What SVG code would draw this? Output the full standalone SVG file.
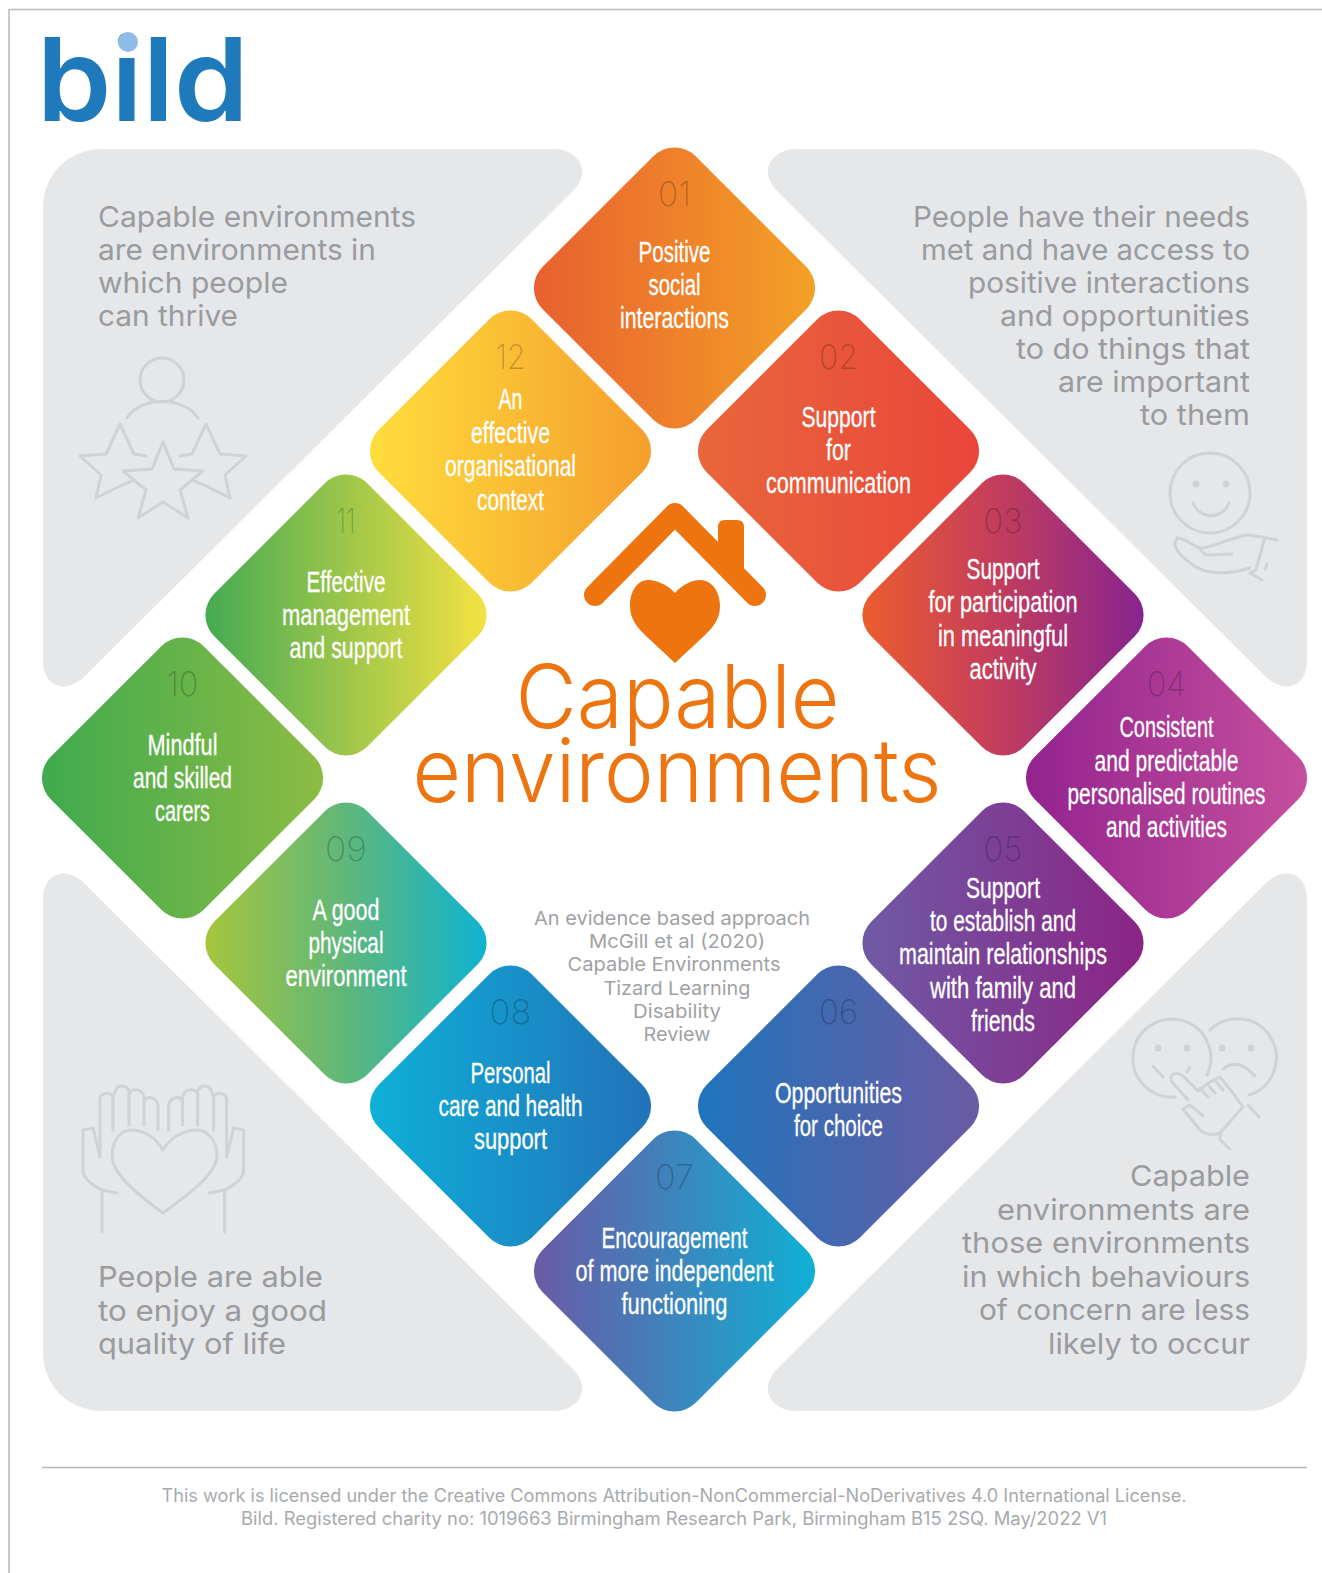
<svg xmlns="http://www.w3.org/2000/svg" width="1322" height="1573" viewBox="0 0 1322 1573">
<style>
.l{font:30px "Liberation Sans",Arial,sans-serif;fill:#fff;stroke:#fff;stroke-width:.3;text-anchor:middle}
.n{font:200 34px Inter,"Liberation Sans",sans-serif;fill:#000;fill-opacity:.24;text-anchor:middle}
.p{font:400 29px Inter,"Liberation Sans",sans-serif;fill:#999b9e}
.r{text-anchor:end}
.s{font:400 19px Inter,"Liberation Sans",sans-serif;fill:#a0a2a5;text-anchor:middle}
.f{font:400 18px Inter,"Liberation Sans",sans-serif;fill:#a8aaad;text-anchor:middle}
.t{font:300 88px Inter,"Liberation Sans",sans-serif;fill:#ee7410;text-anchor:middle}
.panel{fill:#e6e7e9}
.ic{fill:none;stroke:#d0d2d4;stroke-width:3;stroke-linecap:round;stroke-linejoin:round}
.dot{fill:#d0d2d4;stroke:none}
</style>
<defs>
<path id="d" d="M-21.2-131.8A30 30 0 0 1 21.2-131.8L131.8-21.2A30 30 0 0 1 131.8 21.2L21.2 131.8A30 30 0 0 1-21.2 131.8L-131.8 21.2A30 30 0 0 1-131.8-21.2Z"/>
<path id="pan" d="M103 149L553 149C578 149 592 170 574 190L84 677C66 694 43 688 43 660L43 209C43 172 70 149 103 149Z"/>
<linearGradient id="g1"><stop offset="0" stop-color="#e8602f"/><stop offset="1" stop-color="#f4a126"/></linearGradient>
<linearGradient id="g2"><stop offset="0" stop-color="#e9663a"/><stop offset="1" stop-color="#e9463b"/></linearGradient>
<linearGradient id="g3"><stop offset="0" stop-color="#ec5c2e"/><stop offset=".45" stop-color="#c63f5a"/><stop offset="1" stop-color="#87248f"/></linearGradient>
<linearGradient id="g4"><stop offset="0" stop-color="#93248f"/><stop offset="1" stop-color="#c54f9d"/></linearGradient>
<linearGradient id="g5"><stop offset="0" stop-color="#6f5aa5"/><stop offset="1" stop-color="#8b2485"/></linearGradient>
<linearGradient id="g6"><stop offset="0" stop-color="#1f75bc"/><stop offset="1" stop-color="#6a5ba4"/></linearGradient>
<linearGradient id="g7"><stop offset="0" stop-color="#6a5aa5"/><stop offset="1" stop-color="#0fb0d5"/></linearGradient>
<linearGradient id="g8"><stop offset="0" stop-color="#0eb0d8"/><stop offset="1" stop-color="#2272b8"/></linearGradient>
<linearGradient id="g9"><stop offset="0" stop-color="#a5c63c"/><stop offset=".5" stop-color="#5fb77a"/><stop offset="1" stop-color="#0fb3d1"/></linearGradient>
<linearGradient id="g10"><stop offset="0" stop-color="#3faa4e"/><stop offset="1" stop-color="#8cbc44"/></linearGradient>
<linearGradient id="g11"><stop offset="0" stop-color="#45aa52"/><stop offset="1" stop-color="#f4e242"/></linearGradient>
<linearGradient id="g12"><stop offset="0" stop-color="#ffdd3c"/><stop offset="1" stop-color="#f59e2d"/></linearGradient>
</defs>
<rect width="1322" height="1573" fill="#fff"/>
<g id="page-frame"><path d="M9 1573V9.5H1322" fill="none" stroke="#b9b9b9" stroke-width="1.5"/></g>
<g id="logo">
<text x="36.7" y="120.500" font-family="Inter,'Liberation Sans',sans-serif" font-weight="600" font-size="116" fill="#1f7abc" textLength="212" lengthAdjust="spacingAndGlyphs">bild</text>
<circle cx="128" cy="42" r="10" fill="#8dbde6"/>
</g>
<g id="panel-top-left">
<use href="#pan" class="panel"/>
<text class="p" x="98" y="227" textLength="318" lengthAdjust="spacingAndGlyphs">Capable environments</text>
<text class="p" x="98" y="260" textLength="278" lengthAdjust="spacingAndGlyphs">are environments in</text>
<text class="p" x="98" y="293" textLength="190" lengthAdjust="spacingAndGlyphs">which people</text>
<text class="p" x="98" y="326" textLength="140" lengthAdjust="spacingAndGlyphs">can thrive</text>
<g class="ic">
<circle cx="162" cy="380" r="22"/>
<path d="M127 418C140 396 184 396 198 418"/>
<path d="M163 442L174 469L203 471L180 490L188 518L163 502L138 518L146 490L123 471L152 469Z"/>
<path d="M146 456L134 454L120 424L106 454L80 456L101 475L96 498L120 486L132 481"/>
<path d="M180 456L192 454L206 424L220 454L246 456L225 475L230 498L206 486L194 481"/>
</g>
</g>
<g id="panel-top-right">
<use href="#pan" class="panel" transform="translate(1350,0) scale(-1,1)"/>
<text class="p r" x="1250" y="227" textLength="337" lengthAdjust="spacingAndGlyphs">People have their needs</text>
<text class="p r" x="1250" y="260" textLength="329" lengthAdjust="spacingAndGlyphs">met and have access to</text>
<text class="p r" x="1250" y="293" textLength="282" lengthAdjust="spacingAndGlyphs">positive interactions</text>
<text class="p r" x="1250" y="326" textLength="250" lengthAdjust="spacingAndGlyphs">and opportunities</text>
<text class="p r" x="1250" y="359" textLength="234" lengthAdjust="spacingAndGlyphs">to do things that</text>
<text class="p r" x="1250" y="392" textLength="192" lengthAdjust="spacingAndGlyphs">are important</text>
<text class="p r" x="1250" y="425" textLength="110" lengthAdjust="spacingAndGlyphs">to them</text>
<g class="ic">
<circle cx="1210" cy="493" r="40"/>
<circle class="dot" cx="1196" cy="484" r="3.5"/><circle class="dot" cx="1226" cy="484" r="3.5"/>
<path d="M1193 503C1200 520 1222 520 1229 503"/>
<path d="M1177 538C1186 538 1192 546 1200 548C1210 549 1232 537 1247 535C1252 535 1256 537 1262 537L1277 540"/>
<path d="M1177 538C1172 545 1176 553 1193 565C1203 573 1225 576 1250 568"/>
<path d="M1200 548C1202 552 1204 555 1208 555L1232 554"/>
<path d="M1265 537L1256 570L1250 573L1262 580"/>
<path d="M1267 564L1265 569"/>
</g>
</g>
<g id="panel-bottom-left">
<use href="#pan" class="panel" transform="translate(0,1560) scale(1,-1)"/>
<text class="p" x="98" y="1287" textLength="225" lengthAdjust="spacingAndGlyphs">People are able</text>
<text class="p" x="98" y="1321" textLength="229" lengthAdjust="spacingAndGlyphs">to enjoy a good</text>
<text class="p" x="98" y="1354" textLength="188" lengthAdjust="spacingAndGlyphs">quality of life</text>
<g class="ic">
<path d="M163 1150C155 1136 142 1130 131 1130C120 1130 112 1142 112 1155C112 1175 140 1196 163 1213C186 1196 217 1175 217 1155C217 1142 208 1130 197 1130C186 1130 171 1136 163 1150Z"/>
<g id="hand-l">
<path d="M102 1232L102 1191M117 1193L102 1190C92 1185 83 1178 83 1170L83 1130L93 1128L100 1157L100 1098C102 1092 111 1092 113 1097L113 1130M113 1097L115 1092C117 1084 127 1084 129 1092L129 1125M129 1094C132 1088 142 1088 144 1097L144 1125M144 1101C147 1096 156 1096 158 1105L158 1130"/>
</g>
<use href="#hand-l" transform="translate(326.6,0) scale(-1,1)"/>
</g>
</g>
<g id="panel-bottom-right">
<use href="#pan" class="panel" transform="translate(1350,1560) scale(-1,-1)"/>
<text class="p r" x="1250" y="1186" textLength="120" lengthAdjust="spacingAndGlyphs">Capable</text>
<text class="p r" x="1250" y="1220" textLength="253" lengthAdjust="spacingAndGlyphs">environments are</text>
<text class="p r" x="1250" y="1253" textLength="288" lengthAdjust="spacingAndGlyphs">those environments</text>
<text class="p r" x="1250" y="1287" textLength="288" lengthAdjust="spacingAndGlyphs">in which behaviours</text>
<text class="p r" x="1250" y="1320" textLength="271" lengthAdjust="spacingAndGlyphs">of concern are less</text>
<text class="p r" x="1250" y="1354" textLength="202" lengthAdjust="spacingAndGlyphs">likely to occur</text>
<g class="ic">
<path d="M1175 1097A39 39 0 1 1 1207 1075"/>
<path d="M1210 1030A39 39 0 1 1 1249 1095"/>
<circle class="dot" cx="1158" cy="1048" r="3.5"/><circle class="dot" cx="1187" cy="1048" r="3.5"/>
<circle class="dot" cx="1222" cy="1048" r="3.5"/><circle class="dot" cx="1251" cy="1048" r="3.5"/>
<path d="M1153 1066L1163 1077M1190 1067L1187 1072M1223 1069Q1238 1057 1255 1076"/>
<path d="M1188 1100L1172 1082C1168 1072 1178 1072 1183 1076L1198 1091L1208 1083L1220 1077L1233 1093L1243 1107L1220 1133C1212 1136 1205 1134 1200 1130L1183 1109L1190 1105L1203 1116"/>
<path d="M1248 1105L1259 1117M1220 1133L1220 1140L1230 1149"/>
<path d="M1200 1088L1208 1097M1208 1085L1215 1093M1215 1080L1223 1090"/>
</g>
</g>
<g id="centre">
<path d="M595 595L675 514L755 595" fill="none" stroke="#ee7410" stroke-width="22" stroke-linecap="round" stroke-linejoin="round"/>
<path d="M718 567V527Q718 520 725 520H737Q744 520 744 527V576L718 550Z" fill="#ee7410"/>
<path d="M675 593C667 584 656 580 648 580C637 580 630 592 630 606C630 620 638 628 646 636L675 663L704 636C712 628 720 620 720 606C720 592 712 580 700 580C692 580 683 584 675 593Z" fill="#ee7410"/>
<text class="t" x="677.500" y="728" textLength="324" lengthAdjust="spacingAndGlyphs">Capable</text>
<text class="t" x="677" y="802" textLength="529" lengthAdjust="spacingAndGlyphs">environments</text>
<text class="s" x="672" y="925" textLength="276" lengthAdjust="spacingAndGlyphs">An evidence based approach</text>
<text class="s" x="677" y="948" textLength="176" lengthAdjust="spacingAndGlyphs">McGill et al (2020)</text>
<text class="s" x="674" y="971" textLength="213" lengthAdjust="spacingAndGlyphs">Capable Environments</text>
<text class="s" x="677" y="995" textLength="147" lengthAdjust="spacingAndGlyphs">Tizard Learning</text>
<text class="s" x="677" y="1018" textLength="88" lengthAdjust="spacingAndGlyphs">Disability</text>
<text class="s" x="677" y="1041" textLength="67" lengthAdjust="spacingAndGlyphs">Review</text>
</g>
<g id="node-01" transform="translate(674.5,288)"><use href="#d" fill="url(#g1)"/><text class="n" y="-82" textLength="33" lengthAdjust="spacingAndGlyphs">01</text>
<text class="l" y="-26" textLength="72" lengthAdjust="spacingAndGlyphs">Positive</text><text class="l" y="7" textLength="52" lengthAdjust="spacingAndGlyphs">social</text><text class="l" y="40" textLength="109" lengthAdjust="spacingAndGlyphs">interactions</text></g>
<g id="node-02" transform="translate(838.5,451)"><use href="#d" fill="url(#g2)"/><text class="n" y="-82" textLength="39" lengthAdjust="spacingAndGlyphs">02</text>
<text class="l" y="-24" textLength="74" lengthAdjust="spacingAndGlyphs">Support</text><text class="l" y="9" textLength="25" lengthAdjust="spacingAndGlyphs">for</text><text class="l" y="42" textLength="145" lengthAdjust="spacingAndGlyphs">communication</text></g>
<g id="node-03" transform="translate(1003,615)"><use href="#d" fill="url(#g3)"/><text class="n" y="-82" textLength="39" lengthAdjust="spacingAndGlyphs">03</text>
<text class="l" y="-36" textLength="73" lengthAdjust="spacingAndGlyphs">Support</text><text class="l" y="-3" textLength="149" lengthAdjust="spacingAndGlyphs">for participation</text><text class="l" y="31" textLength="130" lengthAdjust="spacingAndGlyphs">in meaningful</text><text class="l" y="64" textLength="67" lengthAdjust="spacingAndGlyphs">activity</text></g>
<g id="node-04" transform="translate(1166.5,778)"><use href="#d" fill="url(#g4)"/><text class="n" y="-82" textLength="39" lengthAdjust="spacingAndGlyphs">04</text>
<text class="l" y="-41" textLength="94" lengthAdjust="spacingAndGlyphs">Consistent</text><text class="l" y="-7" textLength="144" lengthAdjust="spacingAndGlyphs">and predictable</text><text class="l" y="26" textLength="198" lengthAdjust="spacingAndGlyphs">personalised routines</text><text class="l" y="59" textLength="121" lengthAdjust="spacingAndGlyphs">and activities</text></g>
<g id="node-05" transform="translate(1003,943)"><use href="#d" fill="url(#g5)"/><text class="n" y="-82" textLength="39" lengthAdjust="spacingAndGlyphs">05</text>
<text class="l" y="-45" textLength="74" lengthAdjust="spacingAndGlyphs">Support</text><text class="l" y="-12" textLength="146" lengthAdjust="spacingAndGlyphs">to establish and</text><text class="l" y="21" textLength="208" lengthAdjust="spacingAndGlyphs">maintain relationships</text><text class="l" y="55" textLength="146" lengthAdjust="spacingAndGlyphs">with family and</text><text class="l" y="88" textLength="64" lengthAdjust="spacingAndGlyphs">friends</text></g>
<g id="node-06" transform="translate(838.5,1106)"><use href="#d" fill="url(#g6)"/><text class="n" y="-82" textLength="39" lengthAdjust="spacingAndGlyphs">06</text>
<text class="l" y="-3.500" textLength="127" lengthAdjust="spacingAndGlyphs">Opportunities</text><text class="l" y="29.500" textLength="89" lengthAdjust="spacingAndGlyphs">for choice</text></g>
<g id="node-07" transform="translate(674.5,1271)"><use href="#d" fill="url(#g7)"/><text class="n" y="-82" textLength="39" lengthAdjust="spacingAndGlyphs">07</text>
<text class="l" y="-23" textLength="146" lengthAdjust="spacingAndGlyphs">Encouragement</text><text class="l" y="10" textLength="198" lengthAdjust="spacingAndGlyphs">of more independent</text><text class="l" y="43" textLength="106" lengthAdjust="spacingAndGlyphs">functioning</text></g>
<g id="node-08" transform="translate(510.5,1106)"><use href="#d" fill="url(#g8)"/><text class="n" y="-82" textLength="42" lengthAdjust="spacingAndGlyphs">08</text>
<text class="l" y="-23" textLength="80" lengthAdjust="spacingAndGlyphs">Personal</text><text class="l" y="10" textLength="144" lengthAdjust="spacingAndGlyphs">care and health</text><text class="l" y="43" textLength="73" lengthAdjust="spacingAndGlyphs">support</text></g>
<g id="node-09" transform="translate(346,943)"><use href="#d" fill="url(#g9)"/><text class="n" y="-82" textLength="42" lengthAdjust="spacingAndGlyphs">09</text>
<text class="l" y="-23" textLength="67" lengthAdjust="spacingAndGlyphs">A good</text><text class="l" y="10" textLength="75" lengthAdjust="spacingAndGlyphs">physical</text><text class="l" y="43" textLength="121" lengthAdjust="spacingAndGlyphs">environment</text></g>
<g id="node-10" transform="translate(182.5,778)"><use href="#d" fill="url(#g10)"/><text class="n" y="-82" textLength="32" lengthAdjust="spacingAndGlyphs">10</text>
<text class="l" y="-23" textLength="70" lengthAdjust="spacingAndGlyphs">Mindful</text><text class="l" y="10" textLength="99" lengthAdjust="spacingAndGlyphs">and skilled</text><text class="l" y="43" textLength="55" lengthAdjust="spacingAndGlyphs">carers</text></g>
<g id="node-11" transform="translate(346,615)"><use href="#d" fill="url(#g11)"/><text class="n" y="-82" textLength="19" lengthAdjust="spacingAndGlyphs">11</text>
<text class="l" y="-23.500" textLength="79" lengthAdjust="spacingAndGlyphs">Effective</text><text class="l" y="9.500" textLength="128" lengthAdjust="spacingAndGlyphs">management</text><text class="l" y="42.500" textLength="113" lengthAdjust="spacingAndGlyphs">and support</text></g>
<g id="node-12" transform="translate(510.5,451)"><use href="#d" fill="url(#g12)"/><text class="n" y="-82" textLength="30" lengthAdjust="spacingAndGlyphs">12</text>
<text class="l" y="-42" textLength="24" lengthAdjust="spacingAndGlyphs">An</text><text class="l" y="-8" textLength="79" lengthAdjust="spacingAndGlyphs">effective</text><text class="l" y="25" textLength="131" lengthAdjust="spacingAndGlyphs">organisational</text><text class="l" y="59" textLength="67" lengthAdjust="spacingAndGlyphs">context</text></g>
<g id="footer">
<path d="M42 1467.500H1307" stroke="#b5b6b8" stroke-width="1.5" fill="none"/>
<text class="f" x="674" y="1502" textLength="1025" lengthAdjust="spacingAndGlyphs">This work is licensed under the Creative Commons Attribution-NonCommercial-NoDerivatives 4.0 International License.</text>
<text class="f" x="674" y="1525" textLength="866" lengthAdjust="spacingAndGlyphs">Bild. Registered charity no: 1019663 Birmingham Research Park, Birmingham B15 2SQ. May/2022 V1</text>
</g>
</svg>
